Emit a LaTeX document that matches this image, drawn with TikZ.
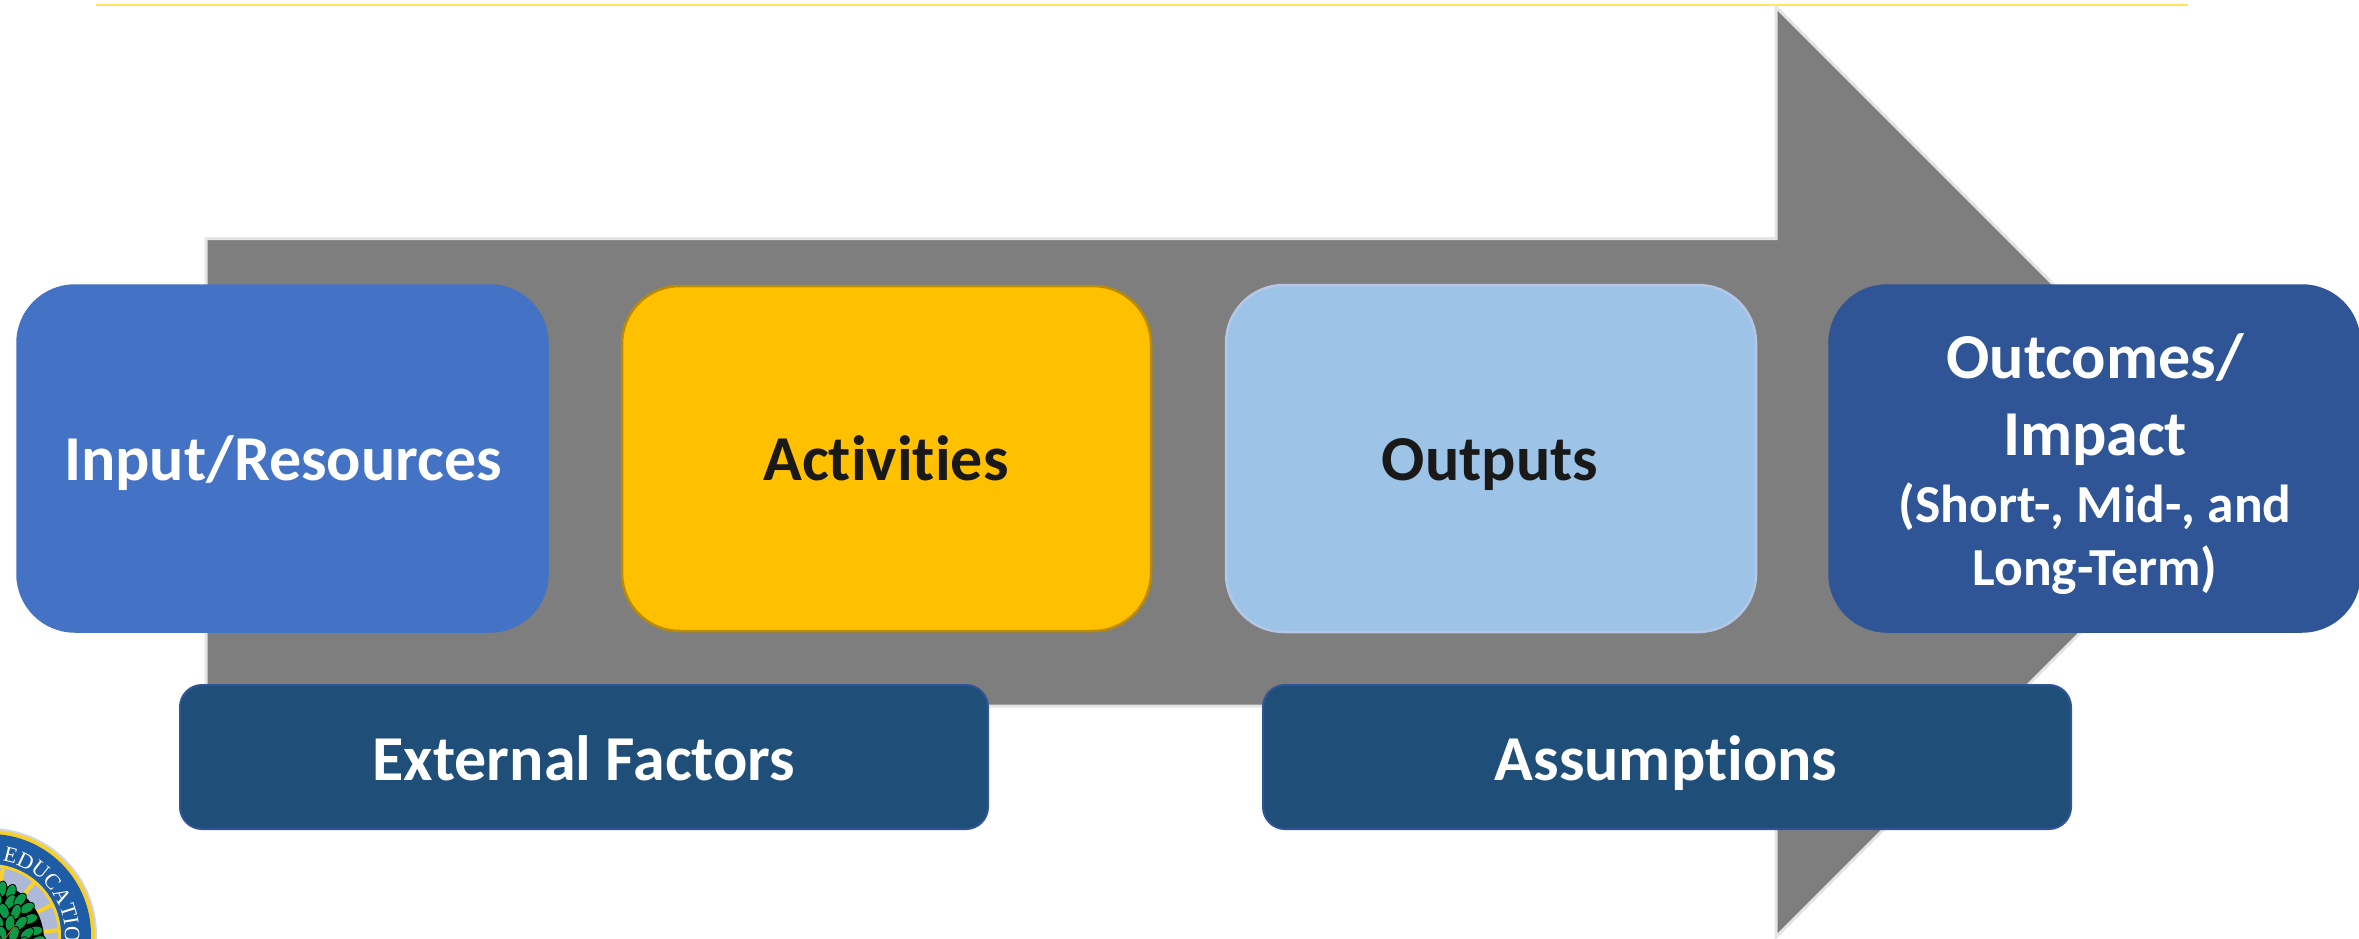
\documentclass[tikz,border=0pt]{standalone}
\usepackage{fontspec}
\setmainfont[Ligatures=NoCommon]{Carlito}
\newfontfamily\sealfont{Liberation Serif}
\usetikzlibrary{decorations.text}
\definecolor{arrowgray}{HTML}{7E7E7E}
\definecolor{arrowedge}{HTML}{E4E4E4}
\definecolor{ruleyellow}{HTML}{FFE45C}
\definecolor{inputblue}{HTML}{4472C4}
\definecolor{actgold}{HTML}{FFC000}
\definecolor{actedge}{HTML}{BC8C00}
\definecolor{outlight}{HTML}{9DC3E6}
\definecolor{outedge}{HTML}{B4C7E7}
\definecolor{impactblue}{HTML}{2F5597}
\definecolor{factorblue}{HTML}{1F4E79}
\definecolor{sealblue}{HTML}{1F5CA6}
\definecolor{sealgold}{HTML}{F7D02C}
\definecolor{sealgrey}{HTML}{AEB9D8}
\definecolor{sealgreen}{HTML}{0C9A48}
\tikzset{
  x=1pt,y=-1pt,
  mainbox/.style={rounded corners=58pt,line width=1.5pt},
  lowbox/.style={rounded corners=22pt,line width=2pt,draw=impactblue,fill=factorblue},
  lab/.style={font=\fontsize{64}{77}\selectfont\bfseries,align=center,inner sep=0pt,anchor=base},
  leaf/.style={fill=sealgreen,draw=black,line width=0.8pt},
}
\begin{document}
\begin{tikzpicture}
\useasboundingbox (0,0) rectangle (2359,939);
\clip (0,0) rectangle (2359,939);
\fill[white] (0,0) rectangle (2359,939);
\draw[ruleyellow,line width=2pt] (96,5) -- (2188,5);
% arrow
\draw[fill=arrowgray,draw=arrowedge,line width=3pt,miter limit=10]
  (206,238.5) -- (1776,238.5) -- (1776,7) -- (2241,472) -- (1776,937) -- (1776,706) -- (206,706) -- cycle;
% boxes
\draw[mainbox,fill=inputblue,draw=inputblue] (17,285) rectangle (548,632);
\draw[mainbox,fill=actgold,draw=actedge,line width=2.5pt] (622,286) rectangle (1151,631);
\draw[mainbox,fill=outlight,draw=outedge,line width=2.5pt] (1226,285) rectangle (1756,632);
\draw[mainbox,fill=impactblue,draw=impactblue] (1829,285) rectangle (2360,632);
\draw[lowbox] (180,685) rectangle (988,829);
\draw[lowbox] (1263,685) rectangle (2071,829);
\node[lab,text=white] (input) at (283,480) {Input/Resources};
\node[lab,text=black!90] (act) at (886,480) {Activities};
\node[lab,text=black!90] (out) at (1490,480) {Outputs};
\node[lab,text=white] (impact) at (2095,585) {Outcomes/\\Impact\\[-10pt]{\fontsize{53.5}{60}\selectfont (Short-, Mid-, and}\\[-14pt]{\fontsize{53.5}{60}\selectfont Long-Term)}};
\node[lab,text=white] (ext) at (584,780) {External Factors};
\node[lab,text=white] (ass) at (1666,780) {Assumptions};
% seal
\coordinate (c) at (-10,935);
\fill[sealgrey!60!white] (c) circle (107);
\fill[sealgold] (c) circle (105);
\fill[sealblue] (c) circle (101);
\fill[sealgold] (c) circle (71);
\fill[sealgrey] (c) circle (68);
\foreach \a in {-79,-50,-26,-4} \draw[sealgold,line width=4pt] (c) ++(\a:44) -- ++(\a:26);
\path[postaction={decorate},decoration={text along path,text align=left,
  text={|\fontsize{22}{22}\selectfont\color{white}\sealfont|T EDUCATION}}]
  (c) ++(-95:75) arc[start angle=-95,end angle=5,radius=75];
\fill[black] (-8,940) ellipse (52 and 56);
\foreach \x/\y/\r in {2/889/80,11/892/70,-3/899/100,10/902/60,20/900/50,27/908/30,4/911/110,16/912/70,30/919/20,-2/921/120,10/923/80,21/923/50,35/931/10,2/934/100,14/934/70,27/934/40,-3/942/90,22/944/60,38/941/20}
  \draw[leaf] (\x,\y) ellipse[x radius=8,y radius=4.8,rotate=\r];
\draw[orange!70!black,line width=1pt] (5,939) -- (15,925);
\end{tikzpicture}
\end{document}
